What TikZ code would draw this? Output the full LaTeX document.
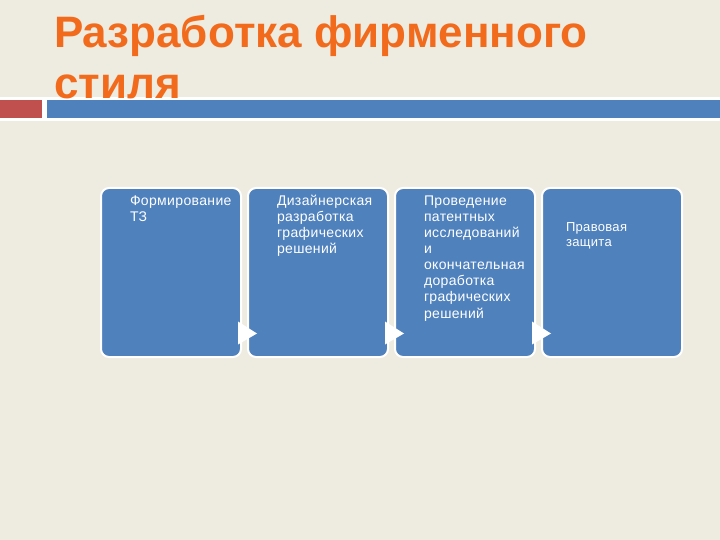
\documentclass[tikz,border=0pt]{standalone}
\usepackage{fontspec}
\setmainfont{Liberation Sans}
\usetikzlibrary{calc}
\definecolor{bgbeige}{HTML}{EEECE1}
\definecolor{titleorange}{HTML}{F26B1D}
\definecolor{accblue}{HTML}{4F81BD}
\definecolor{accred}{HTML}{C0504D}
\tikzset{
  stepbox/.style={draw=white, line width=2pt, fill=accblue, rounded corners=8pt,
    minimum width=140pt, minimum height=169pt, inner sep=0pt, outer sep=0pt},
  boxtext/.style={anchor=base west, inner sep=0pt, outer sep=0pt, text=white,
    font={\fontsize{14}{16}\selectfont\addfontfeature{LetterSpace=2.5}}},
  smalltext/.style={anchor=base west, inner sep=0pt, outer sep=0pt, text=white,
    font={\fontsize{13}{15}\selectfont\addfontfeature{LetterSpace=2.5}}},
  arrowtri/.style={fill=white, draw=none},
  titletext/.style={anchor=base west, inner sep=0pt, outer sep=0pt, text=titleorange,
    font={\fontsize{44}{51}\selectfont\bfseries}}
}
\begin{document}
\begin{tikzpicture}[x=1pt, y=-1pt]
\useasboundingbox (0,0) rectangle (720,540);
\fill[bgbeige] (0,0) rectangle (720,540);
% header bars
\fill[white] (0,97) rectangle (720,121);
\fill[accred] (0,100) rectangle (42,118);
\fill[accblue] (47,100) rectangle (720,118);
% title
\node[titletext] (title) at (54,48) {\parbox[t]{600pt}{Разработка фирменного\\стиля}};
% boxes
\node[stepbox] (b1) at (171,272.5) {};
\node[stepbox] (b2) at (318,272.5) {};
\node[stepbox] (b3) at (465,272.5) {};
\node[stepbox] (b4) at (612,272.5) {};
% texts
\node[boxtext] (t1) at (130,206) {\parbox[t]{120pt}{Формирование\\ТЗ}};
\node[boxtext] (t2) at (277,206) {\parbox[t]{120pt}{Дизайнерская\\разработка\\графических\\решений}};
\node[boxtext] (t3) at (424,206) {\parbox[t]{120pt}{Проведение\\патентных\\исследований\\и\\окончательная\\доработка\\графических\\решений}};
\node[smalltext] (t4) at (566,232) {\parbox[t]{110pt}{Правовая\\защита}};
% arrows between boxes
\foreach \a/\b in {b1/b2, b2/b3, b3/b4} {
  \fill[arrowtri] ($(\a.south east)+(-3,-35.5)$) -- ($(\a.south east)+(-3,-12.5)$)
    -- ($(\b.west)+(9,61)$) -- cycle;
}
\end{tikzpicture}
\end{document}
